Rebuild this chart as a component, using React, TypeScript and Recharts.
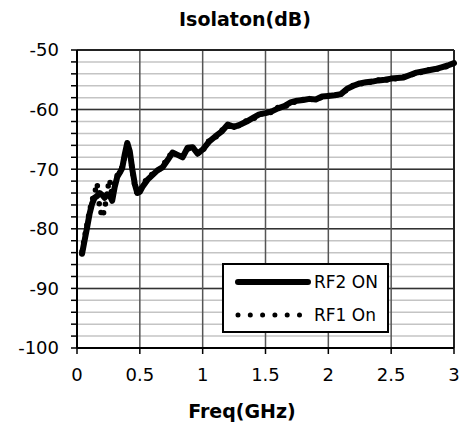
import {
  LineChart,
  Line,
  XAxis,
  YAxis,
  CartesianGrid,
  ReferenceLine
} from 'recharts';

// frequency points (GHz)
const freqs = [
  0.04, 0.06, 0.08, 0.1, 0.12, 0.14, 0.16, 0.18, 0.2, 0.22, 0.24, 0.26, 0.28,
  0.3, 0.32, 0.34, 0.36, 0.38, 0.4, 0.42, 0.44, 0.46, 0.48, 0.5, 0.52, 0.56,
  0.6, 0.64, 0.68, 0.72, 0.76, 0.8, 0.84, 0.88, 0.92, 0.96, 1.0, 1.05, 1.1,
  1.15, 1.2, 1.25, 1.3, 1.35, 1.4, 1.45, 1.5, 1.55, 1.6, 1.65, 1.7, 1.75, 1.8,
  1.85, 1.9, 1.95, 2.0, 2.05, 2.1, 2.15, 2.2, 2.25, 2.3, 2.35, 2.4, 2.45, 2.5,
  2.55, 2.6, 2.65, 2.7, 2.75, 2.8, 2.85, 2.9, 2.95, 3.0
];

// RF2 ON isolation (dB)
const rf2On = [
  -84.2, -82.0, -79.8, -77.5, -75.8, -74.8, -74.5, -74.0, -74.3, -74.8, -74.2,
  -74.4, -75.3, -73.0, -71.3, -70.6, -69.8, -67.5, -65.6, -67.0, -70.0, -72.5,
  -74.0, -73.8, -73.0, -71.8, -71.0, -70.2, -69.7, -68.5, -67.2, -67.6, -68.0,
  -66.4, -66.3, -67.4, -66.7, -65.4, -64.5, -63.7, -62.5, -62.9, -62.5, -62.0,
  -61.4, -60.8, -60.6, -60.3, -59.8, -59.4, -58.8, -58.5, -58.4, -58.2, -58.3,
  -57.8, -57.7, -57.6, -57.4, -56.5, -56.0, -55.6, -55.4, -55.3, -55.1, -55.0,
  -54.8, -54.7, -54.6, -54.2, -53.8, -53.6, -53.4, -53.2, -52.9, -52.6, -52.2
];

// RF1 On isolation (dB)
const rf1On = [
  -83.8, -81.4, -79.2, -77.0, -75.2, -74.0, -72.4, -76.4, -78.0, -76.8, -73.6,
  -71.8, -74.6, -72.6, -71.0, -70.4, -69.6, -67.8, -65.9, -67.3, -70.2, -72.8,
  -74.2, -73.6, -72.7, -71.5, -70.8, -70.4, -69.4, -68.3, -67.0, -67.8, -67.9,
  -66.6, -66.5, -67.2, -66.9, -65.2, -64.7, -63.5, -62.7, -62.7, -62.7, -61.8,
  -61.6, -60.9, -60.4, -60.5, -59.6, -59.6, -58.9, -58.7, -58.3, -58.4, -58.1,
  -58.0, -57.6, -57.8, -57.2, -56.7, -55.9, -55.8, -55.3, -55.5, -55.0, -55.2,
  -54.7, -54.9, -54.5, -54.4, -53.7, -53.8, -53.3, -53.4, -52.8, -52.8, -52.3
];

const xTicks = [0, 0.5, 1, 1.5, 2, 2.5, 3];
const yTicks = [
  -100, -98, -96, -94, -92, -90, -88, -86, -84, -82, -80, -78, -76, -74, -72,
  -70, -68, -66, -64, -62, -60, -58, -56, -54, -52, -50
];
const yMajor = [-60, -70, -80, -90];
const xMajor = [0.5, 1, 1.5, 2, 2.5];

const data = freqs.map((f, i) => ({ f, rf2: rf2On[i], rf1: rf1On[i] }));

const font = 'DejaVu Sans, Verdana, sans-serif';

function LegendBox() {
  return (
    <div
      style={{
        position: 'absolute',
        left: 222,
        top: 263,
        width: 163,
        height: 66,
        border: '2px solid #000',
        background: '#fff',
        fontFamily: font,
        fontSize: 17,
        color: '#000'
      }}
    >
      <div style={{ display: 'flex', alignItems: 'center', height: 33 }}>
        <svg width={90} height={12}>
          <line x1={14} y1={6} x2={84} y2={6} stroke="#000" strokeWidth={6} strokeLinecap="round" />
        </svg>
        <span>RF2 ON</span>
      </div>
      <div style={{ display: 'flex', alignItems: 'center', height: 33 }}>
        <svg width={90} height={12}>
          <line
            x1={14}
            y1={6}
            x2={76}
            y2={6}
            stroke="#000"
            strokeWidth={5}
            strokeLinecap="round"
            strokeDasharray="0 12.3"
          />
        </svg>
        <span>RF1 On</span>
      </div>
    </div>
  );
}

export default function App() {
  return (
    <div style={{ position: 'absolute', left: 0, top: 0, width: 465, height: 428, background: '#fff' }}>
      <div
        style={{
          position: 'absolute',
          left: 145,
          width: 200,
          top: 8,
          textAlign: 'center',
          fontFamily: font,
          fontWeight: 'bold',
          fontSize: 19,
          lineHeight: '22px'
        }}
      >
        Isolaton(dB)
      </div>
      <LineChart
        width={465}
        height={428}
        data={data}
        margin={{ top: 50, right: 11, bottom: 0, left: 0 }}
      >
        <CartesianGrid
          horizontalValues={yTicks}
          vertical={false}
          stroke="#c4c4c4"
          strokeWidth={1.5}
        />
        {yMajor.map((v) => (
          <ReferenceLine key={'y' + v} y={v} stroke="#333" strokeWidth={1.5} />
        ))}
        {xMajor.map((v) => (
          <ReferenceLine key={'x' + v} x={v} stroke="#555" strokeWidth={1.5} />
        ))}
        <ReferenceLine y={-50} stroke="#222" strokeWidth={2} />
        <ReferenceLine x={3} stroke="#222" strokeWidth={2} />
        <XAxis
          dataKey="f"
          type="number"
          domain={[0, 3]}
          ticks={xTicks}
          height={80}
          axisLine={{ stroke: '#000', strokeWidth: 2 }}
          tickLine={{ stroke: '#000', strokeWidth: 1.5 }}
          tickSize={6}
          tickMargin={14}
          tick={{ fontSize: 18, fill: '#000', fontFamily: font }}
          interval={0}
        />
        <YAxis
          type="number"
          domain={[-100, -50]}
          ticks={yTicks}
          width={77}
          axisLine={{ stroke: '#000', strokeWidth: 2 }}
          tickLine={{ stroke: '#000', strokeWidth: 1.5 }}
          tickSize={6}
          tickMargin={12}
          interval={0}
          tick={{ fontSize: 18, fill: '#000', fontFamily: font }}
          tickFormatter={(v: number) => (v % 10 === 0 ? String(v) : '')}
        />
        <Line
          dataKey="rf1"
          stroke="#000"
          strokeWidth={5.5}
          strokeDasharray="0 9"
          strokeLinecap="round"
          dot={false}
          isAnimationActive={false}
          type="linear"
        />
        <Line
          dataKey="rf2"
          stroke="#000"
          strokeWidth={6}
          strokeLinejoin="round"
          strokeLinecap="round"
          dot={false}
          isAnimationActive={false}
          type="linear"
        />
      </LineChart>
      <LegendBox />
      <div
        style={{
          position: 'absolute',
          left: 142,
          width: 200,
          top: 400,
          textAlign: 'center',
          fontFamily: font,
          fontWeight: 'bold',
          fontSize: 19,
          lineHeight: '22px'
        }}
      >
        Freq(GHz)
      </div>
    </div>
  );
}
